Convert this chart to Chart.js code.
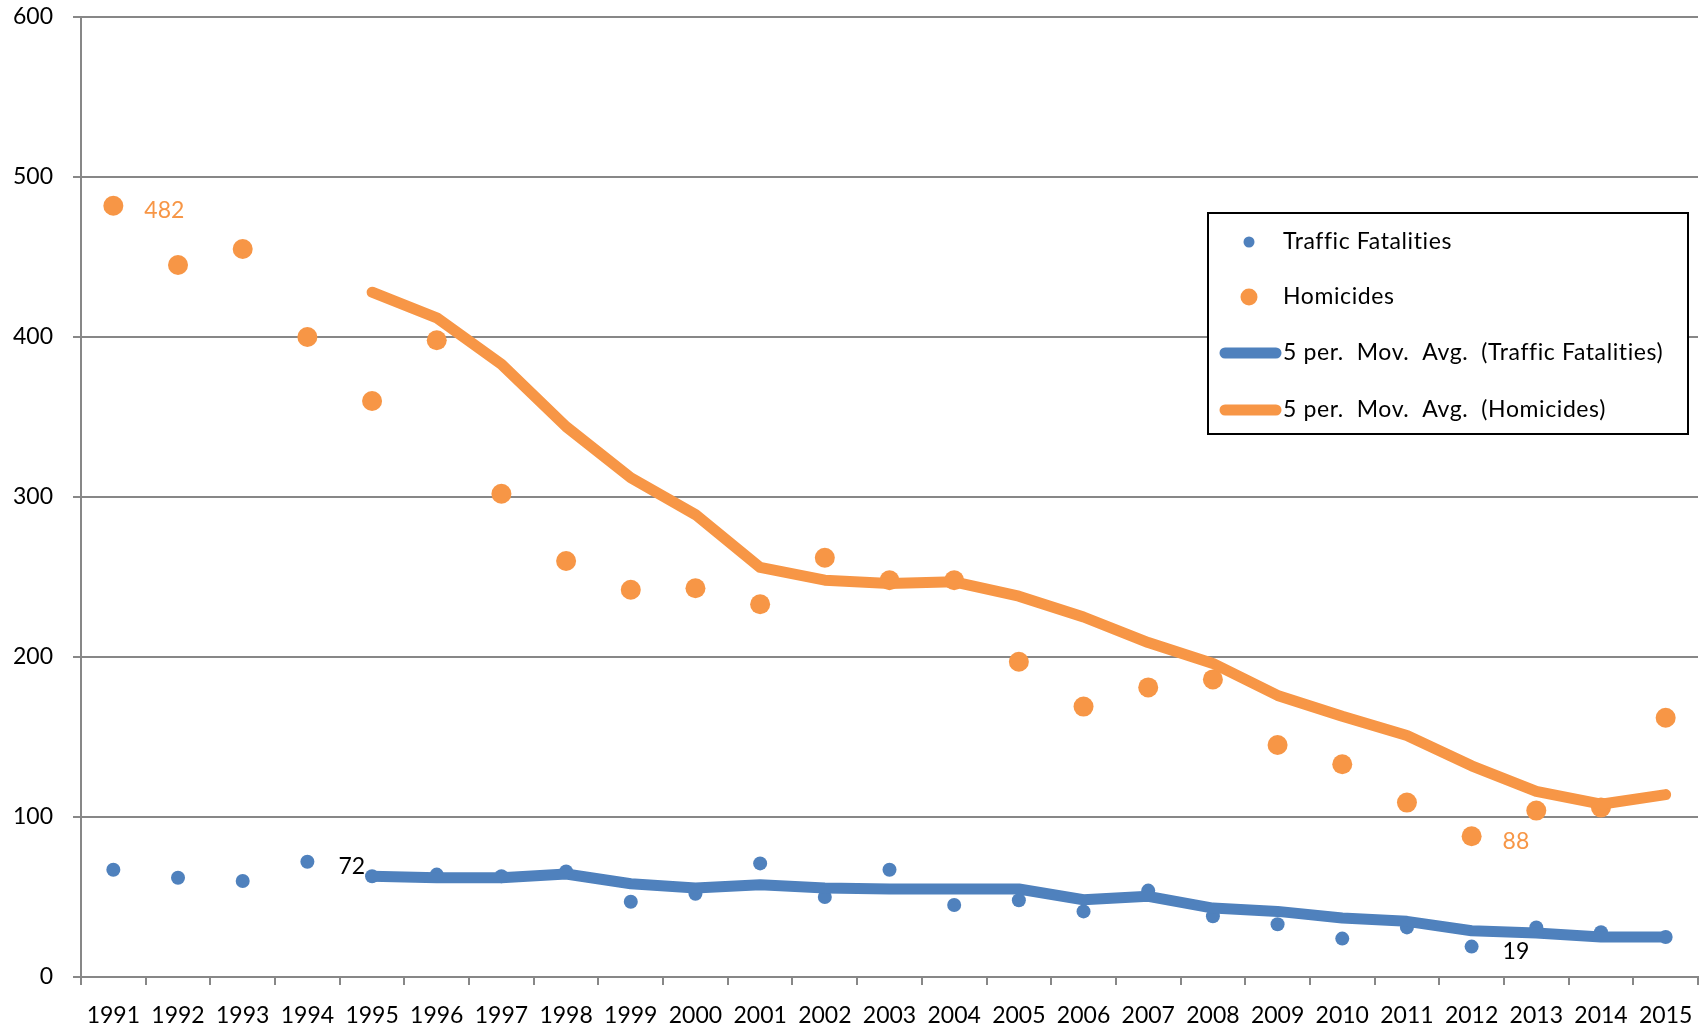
<!DOCTYPE html>
<html>
<head>
<meta charset="utf-8">
<script src="https://cdn.jsdelivr.net/npm/chart.js@4"></script>
<style>
  body { margin: 0; background: #fff; }
  #wrap { width: 1708px; height: 1031px; }
</style>
</head>
<body>
<div id="wrap"><canvas id="chart" width="1708" height="1031"></canvas></div>
<script>
// values
const years = ['1991','1992','1993','1994','1995','1996','1997','1998','1999','2000','2001','2002','2003',
  '2004','2005','2006','2007','2008','2009','2010','2011','2012','2013','2014','2015'];
const trafficFatalities = [67, 62, 60, 72, 63, 64, 63, 66, 47, 52, 71, 50, 67, 45, 48, 41, 54, 38, 33, 24, 31, 19, 31, 28, 25];
const homicides = [482, 445, 455, 400, 360, 398, 302, 260, 242, 243, 233, 262, 248, 248, 197, 169, 181, 186, 145, 133, 109, 88, 104, 106, 162];
const trafficAvg = [null, null, null, null, 63, 62, 62, 64.4, 58.3, 55.6, 57.7, 55.6, 55, 55, 55, 48.3, 50.4, 43.1, 41, 36.9, 34.8, 28.9, 27.5, 25, 25];
const homicideAvg = [null, null, null, null, 428, 412, 383, 344, 312, 289, 256, 248, 246, 247, 238, 225, 209, 196, 176, 163, 151, 132, 116, 108, 114];
const yTicks = [0, 100, 200, 300, 400, 500, 600];

// data labels: [dataset index, point index]
const pointLabels = [[1, 0], [1, 21], [0, 3], [0, 21]];

const BLUE = '#4F81BD';
const ORANGE = '#F79646';
const GRID = '#878787';
const FONT = 'Lato, "Open Sans", sans-serif';

const labelPlugin = {
  id: 'pointLabels',
  afterDatasetsDraw(chart) {
    const ctx = chart.ctx;
    ctx.save();
    ctx.font = '23px ' + FONT;
    ctx.textAlign = 'left';
    ctx.textBaseline = 'middle';
    pointLabels.forEach(([ds, i]) => {
      const pt = chart.getDatasetMeta(ds).data[i];
      const val = chart.data.datasets[ds].data[i];
      ctx.fillStyle = ds === 1 ? ORANGE : '#000';
      ctx.fillText(String(val), pt.x + 31, pt.y + 5);
    });
    ctx.restore();
  }
};

const legendPlugin = {
  id: 'legendBox',
  afterDraw(chart) {
    const ctx = chart.ctx;
    ctx.save();
    ctx.fillStyle = '#fff';
    ctx.fillRect(1208, 213, 480, 221);
    ctx.strokeStyle = '#000';
    ctx.lineWidth = 2;
    ctx.strokeRect(1208, 213, 480, 221);
    ctx.font = '23px ' + FONT;
    ctx.letterSpacing = '0.6px';
    ctx.textBaseline = 'middle';
    const rows = chart.data.datasets;
    const ys = [242, 297, 353, 410];
    rows.forEach((d, k) => {
      const y = ys[k];
      if (k < 2) {
        ctx.beginPath();
        ctx.fillStyle = d.backgroundColor;
        ctx.arc(1249, y, d.pointRadius - 1.5, 0, Math.PI * 2);
        ctx.fill();
      } else {
        ctx.beginPath();
        ctx.strokeStyle = d.borderColor;
        ctx.lineWidth = 11;
        ctx.lineCap = 'round';
        ctx.moveTo(1225, y);
        ctx.lineTo(1276, y);
        ctx.stroke();
      }
      ctx.fillStyle = '#000';
      ctx.fillText(d.label, 1283, y);
    });
    ctx.restore();
  }
};

new Chart(document.getElementById('chart'), {
  type: 'line',
  data: {
    labels: years,
    datasets: [
      { label: 'Traffic Fatalities', data: trafficFatalities, showLine: false,
        pointRadius: 7, backgroundColor: BLUE, borderColor: BLUE, pointBorderWidth: 0, order: 3 },
      { label: 'Homicides', data: homicides, showLine: false,
        pointRadius: 10, backgroundColor: ORANGE, borderColor: ORANGE, pointBorderWidth: 0, order: 2 },
      { label: '5 per.  Mov.  Avg.  (Traffic Fatalities)', data: trafficAvg, pointRadius: 0,
        borderColor: BLUE, borderWidth: 11, borderCapStyle: 'round', borderJoinStyle: 'round', order: 1 },
      { label: '5 per.  Mov.  Avg.  (Homicides)', data: homicideAvg, pointRadius: 0,
        borderColor: ORANGE, borderWidth: 11, borderCapStyle: 'round', borderJoinStyle: 'round', order: 0 }
    ]
  },
  options: {
    responsive: false,
    animation: false,
    devicePixelRatio: 1,
    layout: { padding: { top: 17, right: 8, left: 0, bottom: 0 } },
    plugins: { legend: { display: false }, tooltip: { enabled: false } },
    scales: {
      x: {
        offset: true,
        grid: { offset: true, drawOnChartArea: false, color: GRID, lineWidth: 2, tickLength: 8 },
        border: { color: GRID, width: 2 },
        ticks: { color: '#000', font: { family: FONT, size: 23 }, padding: 17, maxRotation: 0, autoSkip: false },
        afterFit: (s) => { s.height = 54; s.paddingLeft = 0; s.paddingRight = 0; }
      },
      y: {
        min: 0, max: 600,
        afterBuildTicks: (s) => { s.ticks = yTicks.map(v => ({ value: v })); },
        grid: { color: GRID, lineWidth: 2, tickLength: 8 },
        border: { color: GRID, width: 2 },
        ticks: { color: '#000', font: { family: FONT, size: 23 }, padding: 20 },
        afterFit: (s) => { s.width = 81; s.paddingTop = 0; s.paddingBottom = 0; }
      }
    }
  },
  plugins: [labelPlugin, legendPlugin]
});
</script>
</body>
</html>
